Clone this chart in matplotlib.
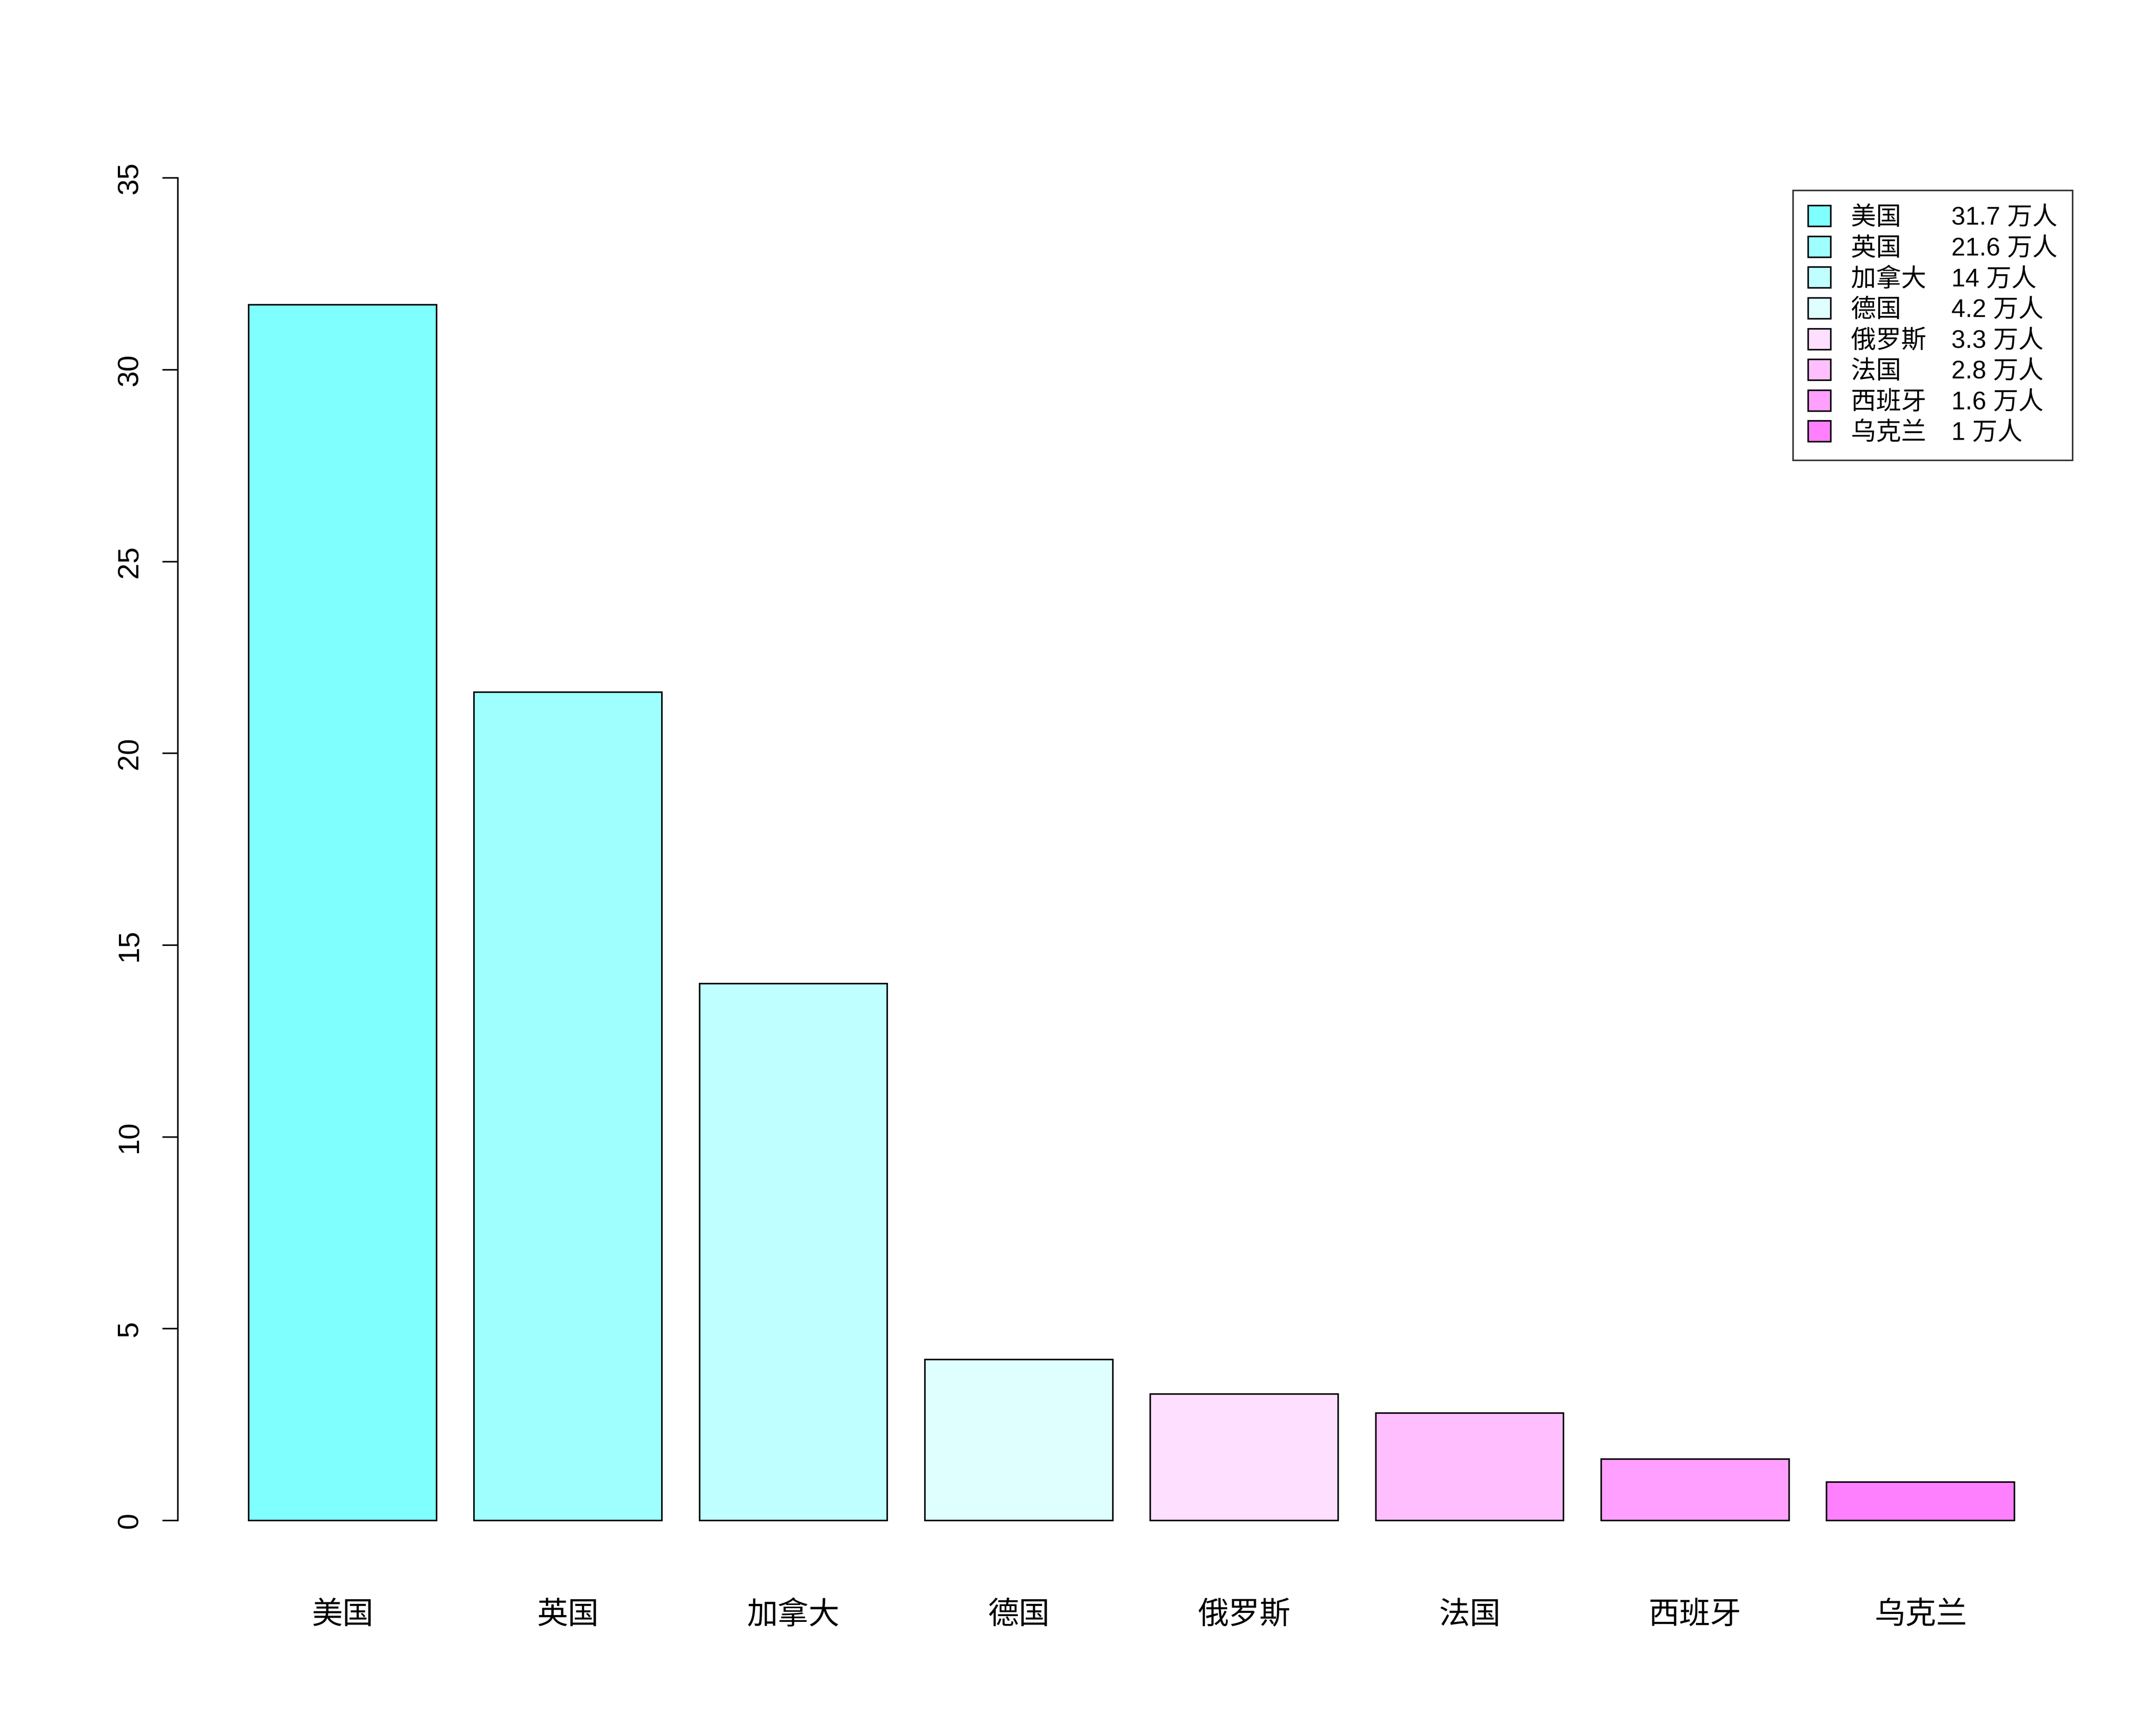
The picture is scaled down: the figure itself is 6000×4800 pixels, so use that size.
import matplotlib
matplotlib.use("Agg")
import matplotlib.pyplot as plt
from matplotlib.patches import Patch

plt.rcParams['font.family'] = ['Liberation Sans', 'Noto Sans CJK SC', 'DejaVu Sans']

countries = ["美国", "英国", "加拿大", "德国", "俄罗斯", "法国", "西班牙", "乌克兰"]
values = [31.7, 21.6, 14, 4.2, 3.3, 2.8, 1.6, 1]
value_labels = ["31.7", "21.6", "14", "4.2", "3.3", "2.8", "1.6", "1"]
colors = ["#80FFFF", "#9FFFFF", "#BFFFFF", "#DFFFFF", "#FFDFFF", "#FFBFFF", "#FF9FFF", "#FF80FF"]
yticks = [0, 5, 10, 15, 20, 25, 30, 35]

W, H = 1550, 1240
fig = plt.figure(figsize=(6000/387, 4800/387), dpi=387)
ax = fig.add_axes([128/W, 1-1131.6/H, (1499-128)/W, (1131.6-89.4)/H])

x = [0.7 + 1.2*i for i in range(len(values))]
ax.bar(x, values, width=1.0, color=colors, edgecolor='black', linewidth=0.8)
ax.set_xlim(-0.176, 9.976)
ax.set_ylim(-1.4, 36.4)
for s in ['top', 'right', 'bottom']:
    ax.spines[s].set_visible(False)
ax.spines['left'].set_bounds(0, 35)
ax.set_yticks(yticks)
ax.set_yticklabels([str(t) for t in yticks], rotation=90, va='center', fontsize=15)
ax.tick_params(axis='y', length=8, pad=10)
ax.set_xticks(x)
ax.set_xticklabels(countries, fontsize=16)
ax.tick_params(axis='x', length=0, pad=14)

handles = [Patch(facecolor=c, edgecolor='black', linewidth=0.8) for c in colors]
labels = [f"{c}" + "\u2003" * (4 - len(c)) + f"{v} 万人" for c, v in zip(countries, value_labels)]
leg = ax.legend(handles, labels, loc='upper right', bbox_to_anchor=(1.0, 36.4/37.8 - 0.0 + (128-89.4)/(1131.6-89.4) - (128-89.4)/(1131.6-89.4)),
                fontsize=13, frameon=True, fancybox=False, edgecolor='black',
                handlelength=0.9, handleheight=0.9, labelspacing=0.25, borderpad=0.6)
leg.set_bbox_to_anchor((1.0, 1 - (128-89.4)/(1131.6-89.4)), transform=ax.transAxes)
leg.get_frame().set_linewidth(0.8)

fig.savefig("out.png", dpi=387, facecolor='white')
